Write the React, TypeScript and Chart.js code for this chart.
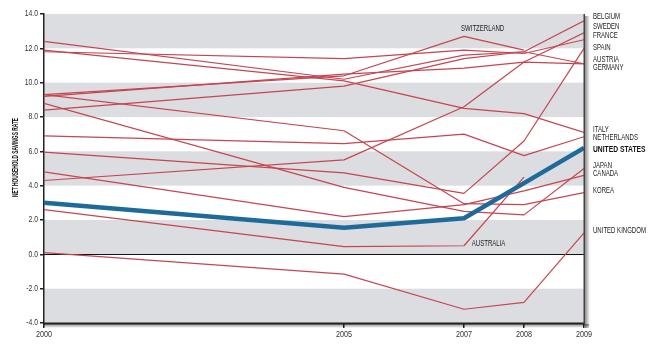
import React, { useEffect, useRef } from 'react';
import { Chart, registerables } from 'chart.js';

Chart.register(...registerables);

// ---------- data ----------
const years = [2000, 2005, 2007, 2008, 2009];
const xTicks = [2000, 2005, 2007, 2008, 2009];

const unitedStates = [3.0, 1.55, 2.1, 4.15, 6.2];
const belgium = [12.4, 10.2, 11.6, 11.8, 13.6];
const sweden = [4.3, 5.5, 8.6, 11.2, 12.9];
const france = [11.8, 11.4, 11.9, 11.7, 12.5];
const spain = [5.95, 4.75, 3.55, 6.6, 12.0];
const austria = [8.4, 9.8, 11.4, 11.8, 11.1];
const germany = [9.2, 10.5, 10.85, 11.2, 11.1];
const italy = [11.9, 10.1, 8.5, 8.2, 7.1];
const netherlands = [6.9, 6.45, 7.0, 5.75, 6.85];
const japan = [8.8, 3.9, 2.5, 2.3, 5.0];
const canada = [4.8, 2.2, 2.9, 3.7, 4.6];
const korea = [9.3, 7.2, 2.95, 2.9, 3.6];
const unitedKingdom = [0.1, -1.15, -3.2, -2.8, 1.25];
const australia = [2.6, 0.45, 0.5, 4.5];
const switzerland = [9.3, 10.4, 12.7, 11.9];

// right-side labels (anchored at value on the y axis)
const rightLabels = ['BELGIUM', 'SWEDEN', 'FRANCE', 'SPAIN', 'AUSTRIA', 'GERMANY', 'ITALY', 'NETHERLANDS', 'UNITED STATES', 'JAPAN', 'CANADA', 'KOREA', 'UNITED KINGDOM'];
const rightLabelValues = [13.84, 13.26, 12.73, 12.03, 11.34, 10.87, 7.27, 6.8, 6.13, 5.17, 4.71, 3.69, 1.37];

// inline labels
const inlineLabels = ['SWITZERLAND', 'AUSTRALIA'];
const inlineLabelYears = [2006.95, 2007.13];
const inlineLabelValues = [13.14, 0.64];

// shaded bands
const bandLows = [12, 8, 4, 0, -4];
const bandHighs = [14, 10, 6, 2, -2];

const yTitle = 'NET HOUSEHOLD SAVINGS RATE';

const RED = '#c54551';
const BLUE = '#1e6a9b';
const BAND = '#dcdde0';
const FONT = '"Liberation Sans", Arial, sans-serif';

function drawText(ctx: CanvasRenderingContext2D, text: string, x: number, y: number, align: CanvasTextAlign, font: string, color: string, sx: number) {
  ctx.save();
  ctx.translate(x, y);
  ctx.scale(sx, 1);
  ctx.font = font;
  ctx.fillStyle = color;
  ctx.textAlign = align;
  ctx.textBaseline = 'middle';
  ctx.fillText(text, 0, 0);
  ctx.restore();
}

export default function App() {
  const ref = useRef<HTMLCanvasElement>(null);

  useEffect(() => {
    document.body.style.margin = '0';
    const series = [
      { label: 'United States', values: unitedStates, color: BLUE, width: 4.5 },
      { label: 'Belgium', values: belgium, color: RED, width: 1.2 },
      { label: 'Sweden', values: sweden, color: RED, width: 1.2 },
      { label: 'France', values: france, color: RED, width: 1.2 },
      { label: 'Spain', values: spain, color: RED, width: 1.2 },
      { label: 'Austria', values: austria, color: RED, width: 1.2 },
      { label: 'Germany', values: germany, color: RED, width: 1.2 },
      { label: 'Italy', values: italy, color: RED, width: 1.2 },
      { label: 'Netherlands', values: netherlands, color: RED, width: 1.2 },
      { label: 'Japan', values: japan, color: RED, width: 1.2 },
      { label: 'Canada', values: canada, color: RED, width: 1.2 },
      { label: 'Korea', values: korea, color: RED, width: 1.2 },
      { label: 'United Kingdom', values: unitedKingdom, color: RED, width: 1.2 },
      { label: 'Australia', values: australia, color: RED, width: 1.2 },
      { label: 'Switzerland', values: switzerland, color: RED, width: 1.2 },
    ];

    const decor = {
      id: 'decor',
      beforeDraw(chart: any) {
        const { ctx, chartArea, scales } = chart;
        const y = scales.y;
        ctx.save();
        ctx.fillStyle = BAND;
        for (let i = 0; i < bandLows.length; i++) {
          const top = y.getPixelForValue(bandHighs[i]);
          const bot = y.getPixelForValue(bandLows[i]);
          ctx.fillRect(chartArea.left, top, chartArea.right - chartArea.left, bot - top);
        }
        ctx.restore();
      },
      beforeDatasetsDraw(chart: any) {
        const { ctx, chartArea, scales } = chart;
        const z = Math.round(scales.y.getPixelForValue(0)) + 0.5;
        ctx.save();
        ctx.strokeStyle = '#111';
        ctx.lineWidth = 1;
        ctx.beginPath();
        ctx.moveTo(chartArea.left, z);
        ctx.lineTo(chartArea.right, z);
        ctx.stroke();
        ctx.restore();
      },
      afterDraw(chart: any) {
        const { ctx, chartArea, scales } = chart;
        const { left, right, top, bottom } = chartArea;
        ctx.save();
        // bottom axis shadow
        let g = ctx.createLinearGradient(0, bottom + 1, 0, bottom + 5);
        g.addColorStop(0, 'rgba(0,0,0,0.45)');
        g.addColorStop(1, 'rgba(0,0,0,0)');
        ctx.fillStyle = g;
        ctx.fillRect(left, bottom + 1, right - left + 5, 4);
        // right border shadow
        g = ctx.createLinearGradient(right + 1, 0, right + 6, 0);
        g.addColorStop(0, 'rgba(0,0,0,0.45)');
        g.addColorStop(1, 'rgba(0,0,0,0)');
        ctx.fillStyle = g;
        ctx.fillRect(right + 1, top + 2, 5, bottom - top + 3);
        // bottom axis line
        ctx.fillStyle = '#222';
        ctx.fillRect(left - 1, bottom - 0.5, right - left + 2, 2);
        // right border
        ctx.fillStyle = '#444';
        ctx.fillRect(right - 0.5, top, 1.5, bottom - top + 1);
        ctx.restore();

        // y tick labels
        for (const t of scales.y.ticks) {
          drawText(ctx, Number(t.value).toFixed(1), left - 6, scales.y.getPixelForValue(t.value), 'right', `8.5px ${FONT}`, '#333', 0.8);
        }
        // x tick labels
        for (const t of scales.x.ticks) {
          drawText(ctx, String(t.value), scales.x.getPixelForValue(t.value), bottom + 12, 'center', `8.5px ${FONT}`, '#333', 0.85);
        }
        // right labels
        for (let i = 0; i < rightLabels.length; i++) {
          const isUS = rightLabels[i] === 'UNITED STATES';
          drawText(
            ctx,
            rightLabels[i],
            right + 9,
            scales.y.getPixelForValue(rightLabelValues[i]),
            'left',
            isUS ? `bold 9.5px ${FONT}` : `9px ${FONT}`,
            isUS ? '#111' : '#222',
            isUS ? 0.71 : 0.67,
          );
        }
        // inline labels
        for (let i = 0; i < inlineLabels.length; i++) {
          drawText(ctx, inlineLabels[i], scales.x.getPixelForValue(inlineLabelYears[i]), scales.y.getPixelForValue(inlineLabelValues[i]), 'left', `9px ${FONT}`, '#222', 0.67);
        }
        // y title
        ctx.save();
        ctx.translate(15.5, 157.5);
        ctx.rotate(-Math.PI / 2);
        drawText(ctx, yTitle, 0, 0, 'center', `bold 9px ${FONT}`, '#111', 0.54);
        ctx.restore();
      },
    };

    const chart = new Chart(ref.current as HTMLCanvasElement, {
      type: 'line',
      data: {
        datasets: series.map((s) => ({
          label: s.label,
          data: s.values.map((v, i) => ({ x: years[i], y: v })),
          borderColor: s.color,
          backgroundColor: s.color,
          borderWidth: s.width,
          pointRadius: 0,
          tension: 0,
          fill: false,
          borderJoinStyle: 'round' as const,
        })),
      },
      options: {
        responsive: false,
        animation: false,
        devicePixelRatio: 1,
        layout: { padding: { top: 14, right: 76, left: 0, bottom: 0 } },
        plugins: { legend: { display: false }, tooltip: { enabled: false } },
        scales: {
          x: {
            type: 'linear',
            min: 2000,
            max: 2009,
            afterBuildTicks: (s: any) => {
              s.ticks = xTicks.map((v) => ({ value: v }));
            },
            afterFit: (s: any) => {
              s.height = 27;
            },
            grid: { drawOnChartArea: false, drawTicks: true, tickLength: 5, tickColor: '#222', lineWidth: 1.5 },
            border: { display: false },
            ticks: { display: false, autoSkip: false },
          },
          y: {
            min: -4,
            max: 14,
            afterFit: (s: any) => {
              s.width = 44;
            },
            grid: { drawOnChartArea: false, drawTicks: true, tickLength: 4, tickColor: '#222', lineWidth: 1.5 },
            border: { display: true, color: '#222', width: 1.5 },
            ticks: { display: false, stepSize: 2 },
          },
        },
      },
      plugins: [decor],
    });
    return () => chart.destroy();
  }, []);

  return (
    <canvas
      ref={ref}
      width={660}
      height={350}
      style={{ position: 'fixed', left: 0, top: 0, width: 660, height: 350 }}
    />
  );
}
